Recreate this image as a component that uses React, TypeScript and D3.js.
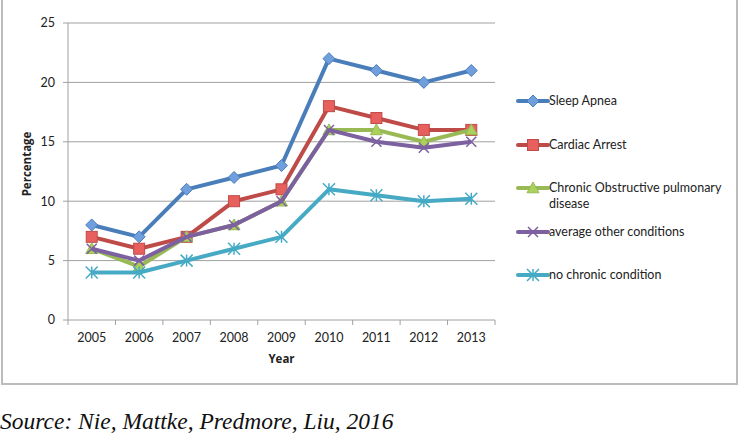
import React from "react";
import * as d3 from "d3";

const years = ["2005", "2006", "2007", "2008", "2009", "2010", "2011", "2012", "2013"];
const sleepApnea = [8, 7, 11, 12, 13, 22, 21, 20, 21];
const cardiacArrest = [7, 6, 7, 10, 11, 18, 17, 16, 16];
const copd = [6, 4.5, 7, 8, 10, 16, 16, 15, 16];
const averageOther = [6, 5, 7, 8, 10, 16, 15, 14.5, 15];
const noChronic = [4, 4, 5, 6, 7, 11, 10.5, 10, 10.2];
const yTicks = [0, 5, 10, 15, 20, 25];

type Series = { name: string[]; values: number[]; color: string; fill: string; marker: string };
const series: Series[] = [
  { name: ["Sleep Apnea"], values: sleepApnea, color: "#4a7ebb", fill: "#6f9fdc", marker: "diamond" },
  { name: ["Cardiac Arrest"], values: cardiacArrest, color: "#be4b48", fill: "#e8605d", marker: "square" },
  { name: ["Chronic Obstructive pulmonary", "disease"], values: copd, color: "#98b954", fill: "#a9d15c", marker: "triangle" },
  { name: ["average other conditions"], values: averageOther, color: "#7d60a0", fill: "#7d60a0", marker: "x" },
  { name: ["no chronic condition"], values: noChronic, color: "#46aac5", fill: "#46aac5", marker: "star" },
];

const W = 739, H = 436;
const left = 68, right = 495, top = 23, bottom = 320;
const font = "Lato, sans-serif";
const boldFont = "'Open Sans', sans-serif";

function Marker({ type, x, y, s }: { type: string; x: number; y: number; s: Series }) {
  if (type === "diamond") {
    const r = 6;
    return <path d={`M${x},${y - r}L${x + r},${y}L${x},${y + r}L${x - r},${y}Z`} fill={s.fill} stroke={s.color} strokeWidth={1} />;
  }
  if (type === "square") {
    const r = 5.5;
    return <rect x={x - r} y={y - r} width={2 * r} height={2 * r} fill={s.fill} stroke={s.color} strokeWidth={1} />;
  }
  if (type === "triangle") {
    const r = 6;
    return <path d={`M${x},${y - r}L${x + r},${y + r * 0.8}L${x - r},${y + r * 0.8}Z`} fill={s.fill} stroke={s.color} strokeWidth={1} />;
  }
  if (type === "x") {
    const r = 5;
    return <path d={`M${x - r},${y - r}L${x + r},${y + r}M${x - r},${y + r}L${x + r},${y - r}`} stroke={s.color} strokeWidth={1.5} />;
  }
  const r = 6;
  return (
    <path
      d={`M${x - r},${y - r}L${x + r},${y + r}M${x - r},${y + r}L${x + r},${y - r}M${x},${y - r}L${x},${y + r}`}
      stroke={s.color}
      strokeWidth={1.5}
    />
  );
}

export default function App() {
  const x = d3.scaleBand<string>().domain(years).range([left, right]);
  const y = d3.scaleLinear().domain([0, 25]).range([bottom, top]);
  const line = d3
    .line<number>()
    .x((_, i) => (x(years[i]) as number) + x.bandwidth() / 2)
    .y((d) => y(d));
  const legendY = [101, 145, 188, 232, 275];
  const boundaries = years.map((yr) => x(yr) as number).concat([right]);

  return (
    <svg width={W} height={H} style={{ position: "absolute", left: 0, top: 0 }}>
      <rect x={0} y={0} width={W} height={H} fill="#fff" />
      <rect x={2} y={-5} width={735} height={389} fill="none" stroke="#bcbcbc" strokeWidth={2} />
      {yTicks.map((t) => (
        <g key={t}>
          {t > 0 && <line x1={left} x2={right} y1={y(t)} y2={y(t)} stroke="#a0a0a0" strokeWidth={1} />}
          <line x1={left - 5} x2={left} y1={y(t)} y2={y(t)} stroke="#a0a0a0" strokeWidth={1} />
          <text x={55} y={y(t)} dy="0.35em" textAnchor="end" fontFamily={font} fontSize={12.5} fill="#222">
            {t}
          </text>
        </g>
      ))}
      <line x1={left} x2={left} y1={top} y2={bottom} stroke="#a0a0a0" strokeWidth={1} />
      <line x1={left} x2={right} y1={bottom} y2={bottom} stroke="#a0a0a0" strokeWidth={1} />
      {boundaries.map((b, i) => (
        <line key={i} x1={b} x2={b} y1={bottom} y2={bottom + 5} stroke="#a0a0a0" strokeWidth={1} />
      ))}
      {years.map((yr) => (
        <text key={yr} x={(x(yr) as number) + x.bandwidth() / 2} y={338} dy="0.35em" textAnchor="middle" fontFamily={font} fontSize={12.5} fill="#222">
          {yr}
        </text>
      ))}
      <text x={(left + right) / 2} y={359} dy="0.35em" textAnchor="middle" fontFamily={boldFont} fontSize={11.5} fontWeight="bold" fill="#222">
        Year
      </text>
      <text transform={`translate(27,164) rotate(-90)`} dy="0.35em" textAnchor="middle" fontFamily={boldFont} fontSize={11.5} fontWeight="bold" fill="#222">
        Percentage
      </text>
      {series.map((s) => (
        <g key={s.name[0]}>
          <path d={line(s.values) || ""} fill="none" stroke={s.color} strokeWidth={4} strokeLinejoin="round" />
          {s.values.map((v, i) => (
            <Marker key={i} type={s.marker} x={(x(years[i]) as number) + x.bandwidth() / 2} y={y(v)} s={s} />
          ))}
        </g>
      ))}
      {series.map((s, i) => (
        <g key={"l" + i}>
          <line x1={518} x2={548} y1={legendY[i]} y2={legendY[i]} stroke={s.color} strokeWidth={4} strokeLinecap="round" />
          <Marker type={s.marker} x={533} y={legendY[i]} s={s} />
          {s.name.map((n, j) => (
            <text key={j} x={549} y={legendY[i] + j * 16} dy="0.35em" fontFamily={font} fontSize={12.5} fill="#222">
              {n}
            </text>
          ))}
        </g>
      ))}
      <text x={0} y={429} fontFamily="'Liberation Serif', 'Times New Roman', serif" fontStyle="italic" fontSize={23.5} fill="#111">
        Source: Nie, Mattke, Predmore, Liu, 2016
      </text>
    </svg>
  );
}
